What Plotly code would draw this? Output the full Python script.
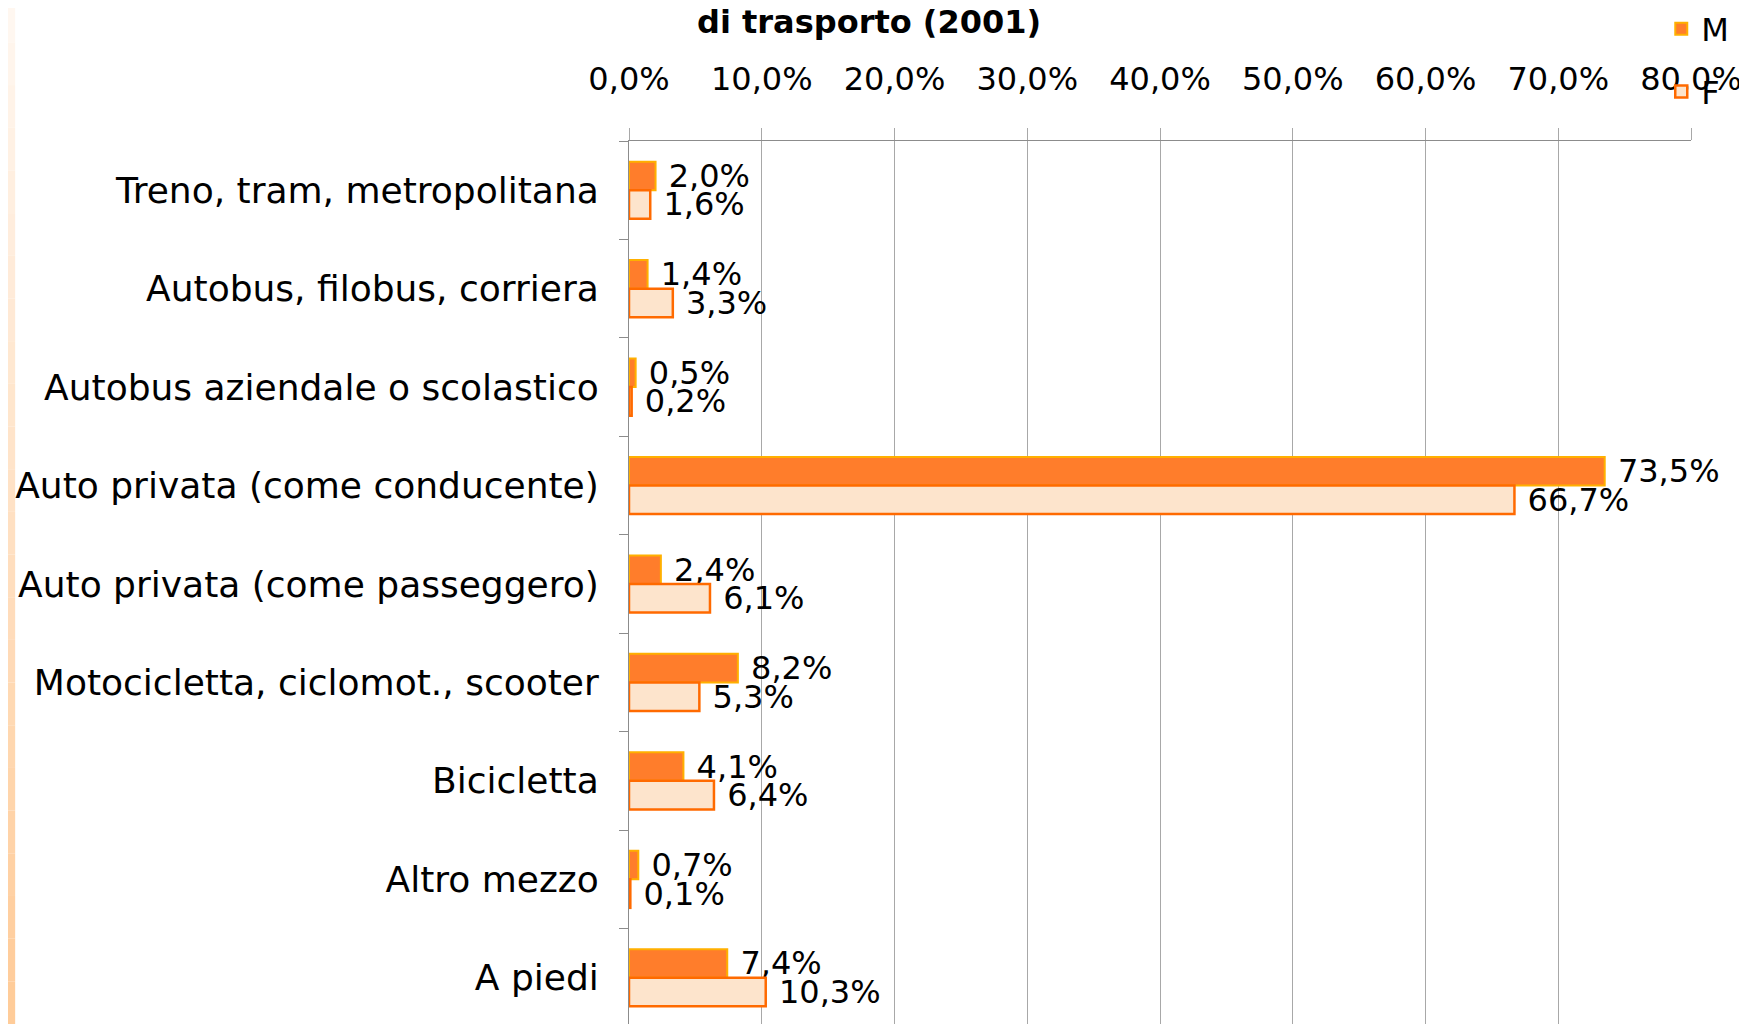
import plotly.graph_objects as go

categories = [
    "Treno, tram, metropolitana",
    "Autobus, filobus, corriera",
    "Autobus aziendale o scolastico",
    "Auto privata (come conducente)",
    "Auto privata (come passeggero)",
    "Motocicletta, ciclomot., scooter",
    "Bicicletta",
    "Altro mezzo",
    "A piedi",
]
maschi = [0.020, 0.014, 0.005, 0.735, 0.024, 0.082, 0.041, 0.007, 0.074]
femmine = [0.016, 0.033, 0.002, 0.667, 0.061, 0.053, 0.064, 0.001, 0.103]
x_ticks = [0, 0.1, 0.2, 0.3, 0.4, 0.5, 0.6, 0.7, 0.8]

FONT = "DejaVu Sans"

fig = go.Figure()

fig.add_trace(go.Bar(
    y=categories, x=maschi, name="M", orientation="h",
    marker=dict(color="#FF7D2B", line=dict(color="#FFB000", width=2)),
    texttemplate=" %{x:.1%}", textposition="outside", constraintext="none",
    cliponaxis=False, textfont=dict(family=FONT, size=32, color="black"),
    legendgroup="m",
))
fig.add_trace(go.Bar(
    y=categories, x=femmine, name="F", orientation="h",
    marker=dict(color="#FDE4CC", line=dict(color="#FF6A00", width=2.5)),
    texttemplate=" %{x:.1%}", textposition="outside", constraintext="none",
    cliponaxis=False, textfont=dict(family=FONT, size=32, color="black"),
    legendgroup="f",
))

# faint peach strip on the left edge
n = 24
for i in range(n):
    t = i / (n - 1)
    r, g, b = 255, int(247 - t * (247 - 204)), int(240 - t * (240 - 153))
    fig.add_shape(
        type="rect", xref="paper", yref="paper",
        x0=-0.585, x1=-0.578, y0=1.16 - (i + 1) * 1.16 / n, y1=1.16 - i * 1.16 / n,
        fillcolor=f"rgb({r},{g},{b})", line_width=0, layer="below",
    )

fig.add_annotation(
    text="<b>di trasporto (2001)</b>", xref="paper", yref="paper",
    x=0.226, y=1.135, xanchor="center", yanchor="middle", showarrow=False,
    font=dict(family=FONT, size=32, color="black"),
)

fig.update_layout(
    width=1739, height=1016,
    margin=dict(l=621, r=56, t=133, b=0, autoexpand=False),
    paper_bgcolor="white", plot_bgcolor="white",
    separators=",.",
    barmode="group", bargap=0.42, bargroupgap=0,
    showlegend=True,
    legend=dict(
        x=0.972, y=1.158, xanchor="left", yanchor="top",
        font=dict(family=FONT, size=32, color="black"),
        traceorder="grouped", tracegroupgap=18, bgcolor="rgba(0,0,0,0)",
        itemwidth=30,
    ),
    xaxis=dict(
        side="top", range=[0, 0.8], tickvals=x_ticks, tickformat=".1%",
        showgrid=True, gridcolor="#A8A8A8", gridwidth=1,
        ticks="outside", ticklen=12, tickcolor="#A8A8A8",
        showline=True, linecolor="#8C8C8C", linewidth=1,
        zeroline=False, ticklabelstandoff=25,
        tickfont=dict(family=FONT, size=32, color="black"),
    ),
    yaxis=dict(
        categoryorder="array", categoryarray=categories,
        range=[8.47, -0.5], tickson="boundaries",
        ticks="outside", ticklen=9, tickcolor="#8C8C8C",
        showline=True, linecolor="#8C8C8C", linewidth=1,
        showgrid=False, zeroline=False, ticklabelstandoff=22,
        tickfont=dict(family=FONT, size=36, color="black"),
    ),
)

fig.write_html("out.html")
